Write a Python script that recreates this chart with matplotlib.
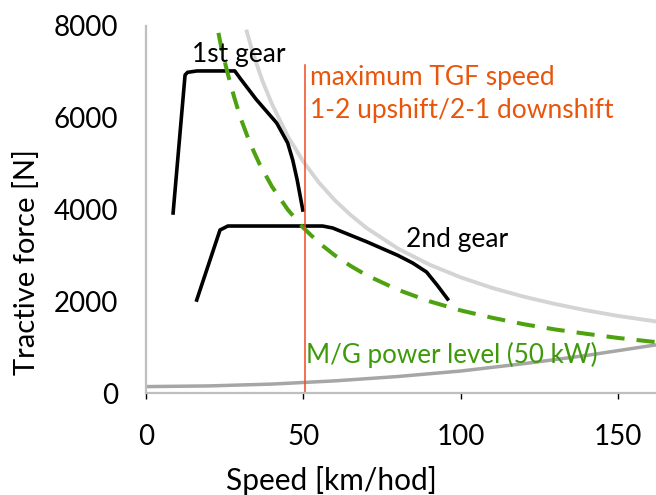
import matplotlib.pyplot as plt

plt.rcParams['font.family'] = ['Lato', 'DejaVu Sans']

# 1st gear tractive force
gear1_v = [8.6, 12.4, 13.2, 16.2, 28.2, 30.0, 35.0, 41.5, 45.0, 46.6, 48.0, 49.8]
gear1_f = [3924, 6932, 6990, 7020, 7020, 6850, 6400, 5886, 5450, 5079, 4650, 3989]

# 2nd gear tractive force
gear2_v = [16.1, 23.5, 26.0, 56.1, 59.3, 70.0, 80.0, 84.7, 89.1, 92.5, 95.8]
gear2_f = [2027, 3553, 3640, 3640, 3597, 3300, 3000, 2834, 2638, 2350, 2049]

# M/G power level 50 kW (dashed green)
mg_v = [23, 24, 26, 28, 30, 33, 36, 40, 45, 50, 55, 60, 65, 70, 80, 90, 100,
        110, 120, 130, 140, 150, 162]
mg_f = [7850, 7500, 6950, 6450, 6000, 5450, 5000, 4500, 4000, 3600, 3270, 3000,
        2770, 2570, 2250, 2000, 1800, 1640, 1500, 1385, 1290, 1200, 1110]

# max power envelope (light grey)
env_v = [32, 34, 37, 40, 45, 50, 55, 60, 65, 70, 80, 90, 100, 110, 120, 130,
         140, 150, 162]
env_f = [7880, 7400, 6800, 6300, 5600, 5040, 4580, 4200, 3880, 3600, 3150, 2800,
         2520, 2290, 2100, 1940, 1800, 1680, 1560]

# driving resistance (grey)
res_v = [0, 20, 40, 60, 80, 100, 120, 140, 162]
res_f = [140, 155, 195, 265, 360, 480, 640, 820, 1050]

shift_speed = 50.5
shift_top = 7150

fig = plt.figure(figsize=(6.56, 4.95), dpi=100)
ax = fig.add_axes([0.2226, 0.206, 0.7774, 0.7415])

ax.plot(res_v, res_f, color='#A6A6A6', lw=2.5, solid_capstyle='butt')
ax.plot(env_v, env_f, color='#D4D4D4', lw=2.8)
ax.plot(gear1_v, gear1_f, color='black', lw=2.6, solid_joinstyle='round')
ax.plot(gear2_v, gear2_f, color='black', lw=2.6, solid_joinstyle='round')
ax.plot(mg_v, mg_f, color='#4EA20F', lw=2.9, dashes=(4.5, 3))
ax.plot([shift_speed, shift_speed], [0, shift_top], color='#F04A22', lw=1.1)

orange = '#E8560C'
ax.text(14.6, 7216, '1st gear', fontsize=19, va='baseline')
ax.text(82.5, 3183, '2nd gear', fontsize=19, va='baseline')
ax.text(52.0, 6714, 'maximum TGF speed', fontsize=19, color=orange, va='baseline')
ax.text(52.0, 5995, '1-2 upshift/2-1 downshift', fontsize=19, color=orange, va='baseline')
ax.text(50.7, 654, 'M/G power level (50 kW)', fontsize=18.7, color='#3E9A0A', va='baseline')

ax.set_xlim(0, 162)
ax.set_ylim(0, 8000)
ax.set_xticks([0, 50, 100, 150])
ax.set_yticks([0, 2000, 4000, 6000, 8000])
for s in ['top', 'right']:
    ax.spines[s].set_visible(False)
for s in ['left', 'bottom']:
    ax.spines[s].set_color('#BFBFBF')
    ax.spines[s].set_linewidth(1.6)
ax.tick_params(axis='x', length=4, width=1, color='black', labelsize=20, pad=18)
ax.tick_params(axis='y', length=0, labelsize=20, pad=20)

ax.set_xlabel('Speed [km/hod]', fontsize=21.5)
ax.set_ylabel('Tractive force [N]', fontsize=21)
ax.xaxis.set_label_coords(0.363, -0.2)
ax.yaxis.set_label_coords(-0.208, 0.357)

fig.savefig('out.png', dpi=100)
